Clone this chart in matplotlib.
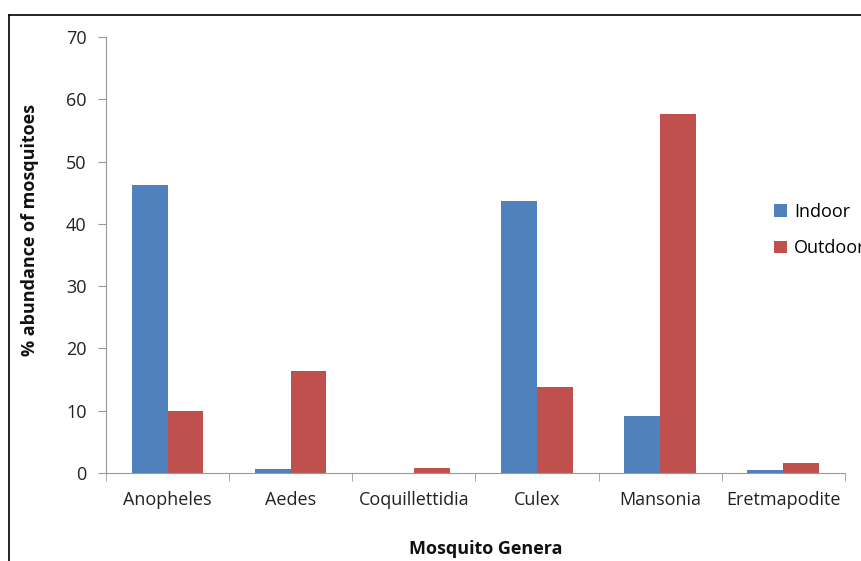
import matplotlib.pyplot as plt
import numpy as np

# data
genera = ['Anopheles', 'Aedes', 'Coquillettidia', 'Culex', 'Mansonia', 'Eretmapodite']
indoor = [46.3, 0.6, 0.0, 43.6, 9.1, 0.5]
outdoor = [10.0, 16.3, 0.8, 13.8, 57.7, 1.6]

plt.rcParams['font.family'] = ['Open Sans', 'DejaVu Sans']

fig = plt.figure(figsize=(8.62, 5.61), dpi=100)
ax = fig.add_axes([0.123, 0.157, 0.857, 0.777])

x = np.arange(len(genera))
w = 0.29
ax.bar(x - w/2, indoor, w, color='#4f81bd', label='Indoor')
ax.bar(x + w/2, outdoor, w, color='#c0504d', label='Outdoor')

ax.set_xlim(-0.5, len(genera) - 0.5)
ax.set_ylim(0, 70)
ax.set_yticks(range(0, 71, 10))
ax.set_xticks(x)
ax.set_xticklabels(genera)
ax.set_xticks(np.arange(-0.5, len(genera), 1), minor=True)
ax.tick_params(axis='x', which='major', length=0, pad=13, labelsize=13, colors='#222222')
ax.tick_params(axis='x', which='minor', length=6, color='#999999', direction='out')
ax.tick_params(axis='y', length=6, color='#999999', labelsize=13, labelcolor='#222222', pad=8)

for s in ['top', 'right']:
    ax.spines[s].set_visible(False)
for s in ['left', 'bottom']:
    ax.spines[s].set_color('#999999')

ax.legend(loc='upper left', bbox_to_anchor=(0.879, 0.668), bbox_transform=fig.transFigure,
          frameon=False, fontsize=13, handlelength=0.7, handleheight=0.7,
          handletextpad=0.4, labelspacing=1.05)

fig.text(0.035, 0.59, '% abundance of mosquitoes', rotation=90, ha='center', va='center',
         fontsize=13, fontweight='bold', color='#111111')
fig.text(0.563, 0.022, 'Mosquito Genera', ha='center', va='center',
         fontsize=13, fontweight='bold', color='#111111')

# outer chart frame (cropped)
fig.add_artist(plt.Line2D([0.011, 0.011], [0.0, 0.973], color='black', lw=1.2, transform=fig.transFigure))
fig.add_artist(plt.Line2D([0.011, 1.0], [0.973, 0.973], color='black', lw=1.2, transform=fig.transFigure))

fig.savefig('out.png', dpi=100)
